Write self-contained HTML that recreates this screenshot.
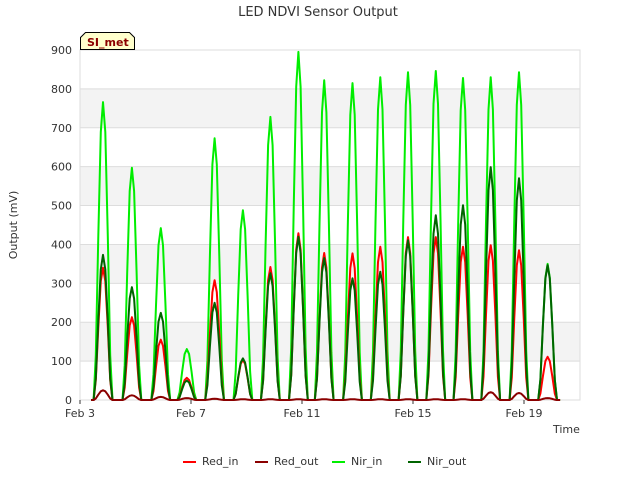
<!DOCTYPE html>
<html><head><meta charset="utf-8"><style>
body{margin:0;background:#fff;font-family:"Liberation Sans",sans-serif}
svg text{font-family:"DejaVu Sans","Liberation Sans",sans-serif}
</style></head><body>
<svg id="c" width="640" height="480" viewBox="0 0 640 480">
<rect width="640" height="480" fill="#fff"/>
<text x="318" y="16" text-anchor="middle" font-size="13" fill="#333">LED NDVI Sensor Output</text>
<g id="bands"></g><g id="grid"></g>
<rect x="80" y="50" width="500" height="350" fill="none" stroke="#ddd"/>
<g id="yt"></g><g id="xt"></g><g id="series"></g>
<text transform="translate(17,225) rotate(-90)" text-anchor="middle" font-size="11" fill="#333">Output (mV)</text>
<text x="553" y="433" font-size="11" fill="#333">Time</text>
<g>
<path d="M80.5,49.5 V37.5 L85.5,32.5 H129.5 L134.5,37.5 V49.5 Z" fill="#ffffcc" stroke="#000"/>
<text x="87" y="46" font-size="11" font-weight="bold" fill="#8b0000">SI_met</text></g>
<g id="legend"></g>
</svg>
<script>
const dayTicks=[0,4,8,12,16];
const tickLabels=["Feb 3","Feb 7","Feb 11","Feb 15","Feb 19"];
const yTicks=[0,100,200,300,400,500,600,700,800,900];
const peakDays=[0.83,1.87,2.91,3.85,4.85,5.87,6.86,7.87,8.8,9.82,10.82,11.82,12.82,13.8,14.8,15.82,16.85];
const redIn=[340,213,155,57,308,103,342,429,378,377,394,419,419,394,398,385,111];
const redOut=[25,12,8,5,3,2,2,2,2,2,2,2,2,2,20,18,5];
const nirIn=[766,597,442,131,673,488,728,895,822,815,830,843,846,828,830,843,350];
const nirOut=[373,290,224,50,250,107,326,420,365,313,330,411,475,501,599,570,347];
const NS="http://www.w3.org/2000/svg";
const X=d=>80+d*27.75, Y=v=>400-v*350/900;
function mk(t,a,p){const e=document.createElementNS(NS,t);for(const k in a)e.setAttribute(k,a[k]);p.appendChild(e);return e;}
const bands=document.getElementById('bands');
[100,300,500,700].forEach(v=>{const r=mk('rect',{x:80,y:Y(v+100),width:500,height:Y(v)-Y(v+100),fill:'#f3f3f3'},bands);

});
const grid=document.getElementById('grid'),yt=document.getElementById('yt'),xt=document.getElementById('xt');
yTicks.forEach(v=>{const l=mk('line',{x1:80,x2:580,y1:Y(v),y2:Y(v),stroke:'#ddd'},grid);


const t=mk('text',{x:72,y:Y(v)+4,'text-anchor':'end','font-size':11,fill:'#333'},yt);t.textContent=v;

});
dayTicks.forEach((d,i)=>{mk('line',{x1:X(d),x2:X(d),y1:400,y2:404,stroke:'#333'},xt);
const t=mk('text',{x:X(d),y:417,'text-anchor':'middle','font-size':11,fill:'#333'},xt);t.textContent=tickLabels[i];

});
const offs=[-0.34,-0.26,-0.17,-0.08,0,0.08,0.17,0.26,0.34];
const prof=[0,0.15,0.55,0.9,1,0.9,0.55,0.15,0];
function path(vals){let d='M'+X(0.4)+','+Y(0);
peakDays.forEach((p,i)=>{offs.forEach((o,j)=>{d+=' L'+X(p+o).toFixed(1)+','+Y(vals[i]*prof[j]).toFixed(1);});});
d+=' L'+X(17.3)+','+Y(0);return d;}
const ser=[["red-in-line",redIn,"#ff0000"],["red-out-line",redOut,"#8b0000"],["nir-in-line",nirIn,"#00ee00"],["nir-out-line",nirOut,"#006400"]];
const sg=document.getElementById('series');
[ser[2],ser[0],ser[3],ser[1]].forEach(s=>{const p=mk('path',{d:path(s[1]),fill:'none',stroke:s[2],'stroke-width':2,'stroke-linejoin':'round'},sg);

});
const lg=document.getElementById('legend');
[["Red_in","#ff0000",183],["Red_out","#8b0000",255],["Nir_in","#00ee00",332],["Nir_out","#006400",408]].forEach(e=>{
const g=mk('g',{},lg);


mk('line',{x1:e[2],x2:e[2]+13,y1:462,y2:462,stroke:e[1],'stroke-width':2},g);
const t=mk('text',{x:e[2]+19,y:465,'font-size':11,fill:'#333'},g);t.textContent=e[0];});
</script>
</body></html>
